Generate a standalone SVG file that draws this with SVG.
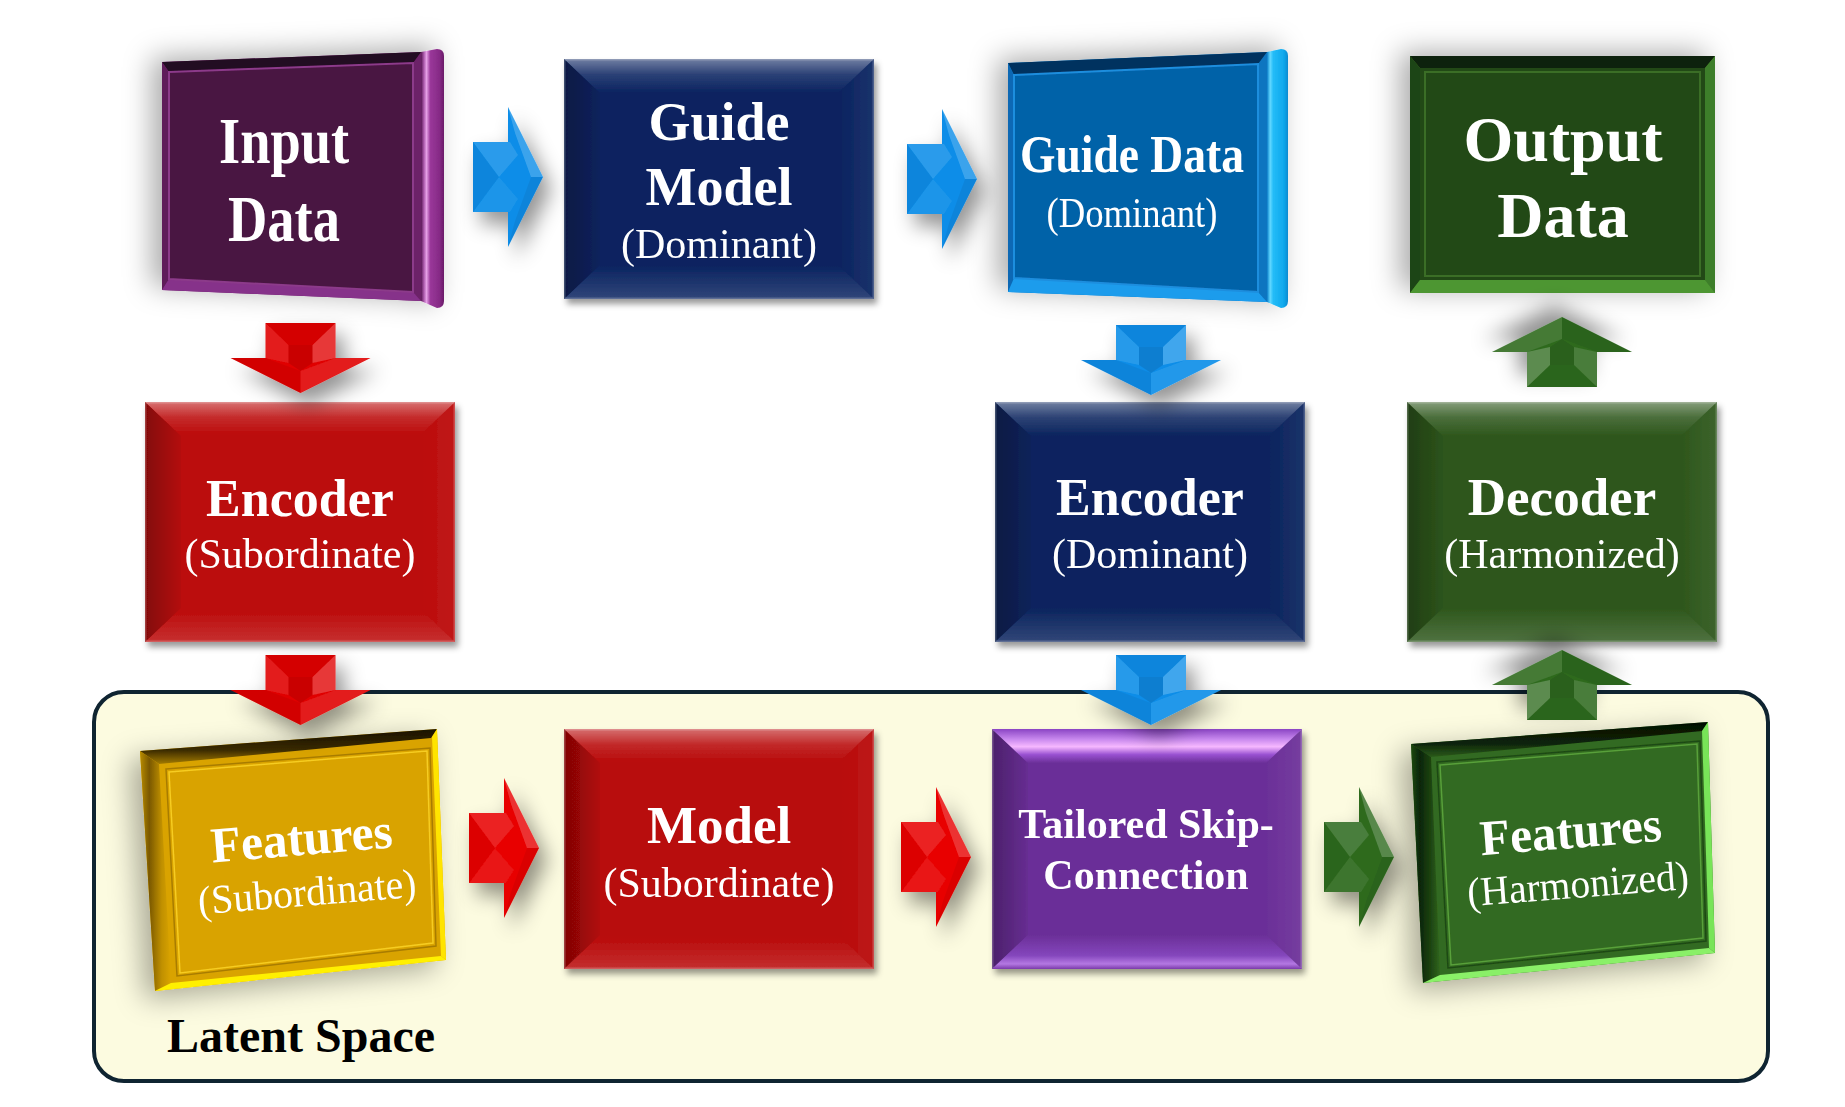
<svg xmlns="http://www.w3.org/2000/svg" xmlns:xlink="http://www.w3.org/1999/xlink" width="1845" height="1107" viewBox="0 0 1845 1107">
  <style>
    .tb { font-family: "Liberation Serif", "Times New Roman", serif; font-weight: bold; fill: #ffffff; text-anchor: middle; }
    .tr { font-family: "Liberation Serif", "Times New Roman", serif; font-weight: normal; fill: #ffffff; text-anchor: middle; }
    .lbl { font-family: "Liberation Serif", "Times New Roman", serif; font-weight: bold; fill: #000000; }
  </style>
  <defs>
    <!-- shadows -->
    <filter id="fxArrow" x="-60%" y="-60%" width="220%" height="220%">
      <feGaussianBlur in="SourceAlpha" stdDeviation="10"/>
      <feOffset dx="8" dy="12" result="b"/>
      <feFlood flood-color="#000" flood-opacity="0.42"/>
      <feComposite in2="b" operator="in"/>
      <feMerge><feMergeNode/><feMergeNode in="SourceGraphic"/></feMerge>
    </filter>
    <filter id="fxBox" x="-10%" y="-10%" width="125%" height="125%">
      <feGaussianBlur in="SourceAlpha" stdDeviation="3"/>
      <feOffset dx="3" dy="5" result="b"/>
      <feFlood flood-color="#000" flood-opacity="0.4"/>
      <feComposite in2="b" operator="in"/>
      <feMerge><feMergeNode/><feMergeNode in="SourceGraphic"/></feMerge>
    </filter>
    <filter id="fxFrame" x="-30%" y="-30%" width="160%" height="160%">
      <feGaussianBlur in="SourceAlpha" stdDeviation="14"/>
      <feOffset dx="-10" dy="-4" result="b"/>
      <feFlood flood-color="#000" flood-opacity="0.33"/>
      <feComposite in2="b" operator="in"/>
      <feMerge><feMergeNode/><feMergeNode in="SourceGraphic"/></feMerge>
    </filter>
    <filter id="fxFrameLow" x="-30%" y="-30%" width="160%" height="160%">
      <feGaussianBlur in="SourceAlpha" stdDeviation="14"/>
      <feOffset dx="-10" dy="8" result="b"/>
      <feFlood flood-color="#000" flood-opacity="0.33"/>
      <feComposite in2="b" operator="in"/>
      <feMerge><feMergeNode/><feMergeNode in="SourceGraphic"/></feMerge>
    </filter>

    <!-- bevel overlays -->
    <linearGradient id="bevTop" x1="0" y1="0" x2="0" y2="1">
      <stop offset="0" stop-color="#fff" stop-opacity="0.42"/>
      <stop offset="0.45" stop-color="#fff" stop-opacity="0.14"/>
      <stop offset="1" stop-color="#fff" stop-opacity="0"/>
    </linearGradient>
    <linearGradient id="bevBot" x1="0" y1="0" x2="0" y2="1">
      <stop offset="0" stop-color="#fff" stop-opacity="0"/>
      <stop offset="1" stop-color="#fff" stop-opacity="0.16"/>
    </linearGradient>
    <linearGradient id="bevLeft" x1="0" y1="0" x2="1" y2="0">
      <stop offset="0" stop-color="#000" stop-opacity="0.3"/>
      <stop offset="1" stop-color="#000" stop-opacity="0.04"/>
    </linearGradient>
    <linearGradient id="bevRight" x1="0" y1="0" x2="1" y2="0">
      <stop offset="0" stop-color="#fff" stop-opacity="0"/>
      <stop offset="1" stop-color="#fff" stop-opacity="0.07"/>
    </linearGradient>
    <linearGradient id="tsTop" x1="0" y1="0" x2="0" y2="1">
      <stop offset="0" stop-color="#8a44c4"/>
      <stop offset="0.3" stop-color="#c888ee"/>
      <stop offset="0.52" stop-color="#f6b8ff"/>
      <stop offset="0.75" stop-color="#9a52d2"/>
      <stop offset="1" stop-color="#6b2f98"/>
    </linearGradient>
    <linearGradient id="tsBot" x1="0" y1="0" x2="0" y2="1">
      <stop offset="0" stop-color="#6b2f98"/>
      <stop offset="0.6" stop-color="#8446bc"/>
      <stop offset="0.85" stop-color="#b478e2"/>
      <stop offset="1" stop-color="#7a3aaa"/>
    </linearGradient>

    <!-- frame side bevels -->
    <linearGradient id="gInputSide" x1="0" y1="0" x2="1" y2="0">
      <stop offset="0" stop-color="#5a1656"/>
      <stop offset="0.14" stop-color="#b462b4"/>
      <stop offset="0.24" stop-color="#e6a0e6"/>
      <stop offset="0.4" stop-color="#9a389a"/>
      <stop offset="0.8" stop-color="#862a86"/>
      <stop offset="1" stop-color="#6a1a68"/>
    </linearGradient>
    <linearGradient id="gGuideSide" x1="0" y1="0" x2="1" y2="0">
      <stop offset="0" stop-color="#0a7cc8"/>
      <stop offset="0.15" stop-color="#62d8ff"/>
      <stop offset="0.3" stop-color="#22bcf8"/>
      <stop offset="0.8" stop-color="#10a8ec"/>
      <stop offset="1" stop-color="#0a8ad0"/>
    </linearGradient>
    <linearGradient id="gGoldLeft" x1="0" y1="0" x2="1" y2="0">
      <stop offset="0" stop-color="#b88c00"/>
      <stop offset="0.3" stop-color="#7a5800"/>
      <stop offset="0.7" stop-color="#c09000"/>
      <stop offset="1" stop-color="#daa400"/>
    </linearGradient>
    <linearGradient id="gGoldTop" x1="0" y1="0" x2="0" y2="1">
      <stop offset="0" stop-color="#1a1200"/>
      <stop offset="0.6" stop-color="#3a2a00"/>
      <stop offset="1" stop-color="#a27a00"/>
    </linearGradient>
    <linearGradient id="gGreenLeft" x1="0" y1="0" x2="1" y2="0">
      <stop offset="0" stop-color="#1e4a12"/>
      <stop offset="0.3" stop-color="#0a2406"/>
      <stop offset="0.7" stop-color="#1e4612"/>
      <stop offset="1" stop-color="#30661e"/>
    </linearGradient>
    <linearGradient id="gGreenTop" x1="0" y1="0" x2="0" y2="1">
      <stop offset="0" stop-color="#030e02"/>
      <stop offset="0.6" stop-color="#0c2208"/>
      <stop offset="1" stop-color="#2a5a1a"/>
    </linearGradient>

    <!-- bevel facets of a 310x240 box -->
    <g id="bevel">
      <polygon points="0,0 310,0 274,34 36,34" fill="url(#bevTop)"/>
      <polygon points="0,0 36,34 36,206 0,240" fill="url(#bevLeft)"/>
      <polygon points="310,0 310,240 274,206 274,34" fill="url(#bevRight)"/>
      <polygon points="0,240 310,240 274,206 36,206" fill="url(#bevBot)"/>
      <rect x="0.75" y="0.75" width="308.5" height="238.5" fill="none" stroke="#fff" stroke-opacity="0.22" stroke-width="1.5"/>
    </g>

    <!-- block arrows, coloured through currentColor -->
    <g id="arrowR">
      <path d="M0,-35 H35 V-70 L70,0 L35,70 V35 H0 Z" fill="currentColor"/>
      <path d="M0,-35 H37 L45,-22 L26,0 Z" fill="#fff" fill-opacity="0.13"/>
      <path d="M0,35 H37 L45,22 L26,0 Z" fill="#fff" fill-opacity="0.07"/>
      <path d="M0,-35 L26,0 L0,35 Z" fill="#000" fill-opacity="0.05"/>
      <path d="M35,-70 L70,0 L58,0 L42,-44 Z" fill="#fff" fill-opacity="0.2"/>
      <path d="M35,70 L70,0 L58,0 L42,44 Z" fill="#000" fill-opacity="0.06"/>
    </g>
    <g id="arrowD">
      <path d="M-35,0 H35 V35 H70 L0,70 L-70,35 H-35 Z" fill="currentColor"/>
      <path d="M-35,0 L-12,22 V40 L-35,35 Z" fill="#fff" fill-opacity="0.12"/>
      <path d="M35,0 L12,22 V40 L35,35 Z" fill="#fff" fill-opacity="0.22"/>
      <path d="M-35,0 H35 L12,22 H-12 Z" fill="#000" fill-opacity="0.05"/>
      <path d="M-12,22 H12 V40 L0,48 L-12,40 Z" fill="#000" fill-opacity="0.1"/>
      <path d="M-70,35 L0,70 L0,48 L-35,35 Z" fill="#000" fill-opacity="0.06"/>
      <path d="M70,35 L0,70 L0,48 L35,35 Z" fill="#fff" fill-opacity="0.1"/>
    </g>
  </defs>

  <rect width="1845" height="1107" fill="#ffffff"/>

  <!-- latent space region -->
  <g id="latent-space">
    <rect x="94" y="692" width="1674" height="389" rx="30" ry="30" fill="#fcfbe0" stroke="#0f2431" stroke-width="4"/>
    <text class="lbl" x="167" y="1052" font-size="48">Latent Space</text>
  </g>

  <!-- Input Data -->
  <g id="input-data" filter="url(#fxFrame)">
    <polygon points="162,62 421,52 421,301 162,290" fill="#6c2168"/>
    <polygon points="162,62 421,52 413,63 169,72" fill="#230820"/>
    <polygon points="162,62 169,72 169,279 162,290" fill="#5e1c5a"/>
    <polygon points="162,290 169,279 413,292 421,301" fill="#86318a"/>
    <polygon points="169,72 413,63 413,292 169,279" fill="#4a1542" stroke="#8c3a8a" stroke-width="2"/>
    <path d="M421,52 L437,49 Q444,49 444,56 L444,301 Q444,308 437,308 L421,301 Z" fill="url(#gInputSide)"/>
    <text class="tb" x="284" y="163" font-size="65" textLength="130" lengthAdjust="spacingAndGlyphs">Input</text>
    <text class="tb" x="284" y="241" font-size="65" textLength="112" lengthAdjust="spacingAndGlyphs">Data</text>
  </g>

  <!-- Guide Model -->
  <g id="guide-model" filter="url(#fxBox)">
    <rect x="564" y="59" width="310" height="240" fill="#0a2360"/>
    <use xlink:href="#bevel" href="#bevel" x="564" y="59"/>
    <text class="tb" x="719" y="140" font-size="54">Guide</text>
    <text class="tb" x="719" y="205" font-size="54">Model</text>
    <text class="tr" x="719" y="258" font-size="42">(Dominant)</text>
  </g>

  <!-- Guide Data -->
  <g id="guide-data" filter="url(#fxFrame)">
    <polygon points="1008,63 1267,52 1267,302 1008,292" fill="#0a74c0"/>
    <polygon points="1008,63 1267,52 1258,64 1014,75" fill="#04325e"/>
    <polygon points="1008,63 1014,75 1014,278 1008,292" fill="#0868b4"/>
    <polygon points="1008,292 1014,278 1258,292 1267,302" fill="#1c9cec"/>
    <polygon points="1014,75 1258,64 1258,292 1014,278" fill="#0562a8" stroke="#1e8ede" stroke-width="2"/>
    <path d="M1267,52 L1281,49 Q1288,49 1288,56 L1288,301 Q1288,308 1281,308 L1267,302 Z" fill="url(#gGuideSide)"/>
    <text class="tb" x="1132" y="172" font-size="52" textLength="224" lengthAdjust="spacingAndGlyphs">Guide Data</text>
    <text class="tr" x="1132" y="227" font-size="42" textLength="171" lengthAdjust="spacingAndGlyphs">(Dominant)</text>
  </g>

  <!-- Output Data -->
  <g id="output-data" filter="url(#fxFrame)">
    <rect x="1410" y="56" width="305" height="237" fill="#3a7428"/>
    <polygon points="1410,56 1715,56 1705,68 1420,68" fill="#0f2208"/>
    <polygon points="1410,56 1420,68 1420,280 1410,293" fill="#1f4412"/>
    <polygon points="1715,56 1715,293 1705,280 1705,68" fill="#3e7e2a"/>
    <polygon points="1410,293 1715,293 1705,280 1420,280" fill="#4e9632"/>
    <rect x="1420" y="68" width="285" height="212" fill="#234a14"/>
    <rect x="1425" y="72" width="275" height="204" fill="none" stroke="#3a6e26" stroke-width="2"/>
    <text class="tb" x="1563" y="161" font-size="64">Output</text>
    <text class="tb" x="1563" y="237" font-size="64">Data</text>
  </g>

  <!-- Encoder (Subordinate) -->
  <g id="encoder-subordinate" filter="url(#fxBox)">
    <rect x="145" y="402" width="310" height="240" fill="#bb0909"/>
    <use xlink:href="#bevel" href="#bevel" x="145" y="402"/>
    <text class="tb" x="300" y="516" font-size="52">Encoder</text>
    <text class="tr" x="300" y="568" font-size="42">(Subordinate)</text>
  </g>

  <!-- Encoder (Dominant) -->
  <g id="encoder-dominant" filter="url(#fxBox)">
    <rect x="995" y="402" width="310" height="240" fill="#0b245e"/>
    <use xlink:href="#bevel" href="#bevel" x="995" y="402"/>
    <text class="tb" x="1150" y="515" font-size="52">Encoder</text>
    <text class="tr" x="1150" y="568" font-size="42">(Dominant)</text>
  </g>

  <!-- Decoder (Harmonized) -->
  <g id="decoder-harmonized" filter="url(#fxBox)">
    <rect x="1407" y="402" width="310" height="240" fill="#2e571c"/>
    <use xlink:href="#bevel" href="#bevel" x="1407" y="402"/>
    <text class="tb" x="1562" y="515" font-size="53">Decoder</text>
    <text class="tr" x="1562" y="568" font-size="42">(Harmonized)</text>
  </g>

  <!-- Features (Subordinate) -->
  <g id="features-subordinate" filter="url(#fxFrameLow)">
    <polygon points="140,751 437,729 446,960 155,991" fill="#d9a300"/>
    <polygon points="140,751 437,729 431,738 159,764" fill="url(#gGoldTop)"/>
    <polygon points="140,751 159,764 171,983 155,991" fill="url(#gGoldLeft)"/>
    <polygon points="437,729 446,960 441,956 432,737" fill="#ffe400"/>
    <polygon points="155,991 446,960 441,956 171,983" fill="#fff000"/>
    <polygon points="166,769 430,748 436,946 177,976" fill="none" stroke="#a87c00" stroke-width="1.5"/>
    <polygon points="169,772 427,751 433,943 180,973" fill="none" stroke="#f6cc20" stroke-width="1.5"/>
    <g transform="rotate(-4.7 303 880)">
      <text class="tb" x="305" y="855" font-size="50" textLength="182" lengthAdjust="spacingAndGlyphs">Features</text>
      <text class="tr" x="306" y="906" font-size="41" textLength="219" lengthAdjust="spacingAndGlyphs">(Subordinate)</text>
    </g>
  </g>

  <!-- Model (Subordinate) -->
  <g id="model-subordinate" filter="url(#fxBox)">
    <rect x="564" y="729" width="310" height="240" fill="#b80808"/>
    <use xlink:href="#bevel" href="#bevel" x="564" y="729"/>
    <text class="tb" x="719" y="843" font-size="53">Model</text>
    <text class="tr" x="719" y="897" font-size="42">(Subordinate)</text>
  </g>

  <!-- Tailored Skip-Connection -->
  <g id="tailored-skip-connection" filter="url(#fxBox)">
    <rect x="992" y="729" width="310" height="240" fill="#6b2f98"/>
    <use xlink:href="#bevel" href="#bevel" x="992" y="729"/>
    <polygon points="992,729 1302,729 1266,763 1028,763" fill="url(#tsTop)"/>
    <polygon points="992,969 1302,969 1266,935 1028,935" fill="url(#tsBot)"/>
    <text class="tb" x="1146" y="838" font-size="42">Tailored Skip-</text>
    <text class="tb" x="1146" y="889" font-size="42">Connection</text>
  </g>

  <!-- Features (Harmonized) -->
  <g id="features-harmonized" filter="url(#fxFrameLow)">
    <polygon points="1411,744 1708,722 1715,953 1423,983" fill="#336a20"/>
    <polygon points="1411,744 1708,722 1702,731 1431,757" fill="url(#gGreenTop)"/>
    <polygon points="1411,744 1431,757 1440,975 1423,983" fill="url(#gGreenLeft)"/>
    <polygon points="1708,722 1715,953 1709,948 1702,731" fill="#78e458"/>
    <polygon points="1423,983 1715,953 1709,948 1440,975" fill="#8af068"/>
    <polygon points="1437,762 1700,741 1706,941 1448,968" fill="none" stroke="#1e4a12" stroke-width="1.5"/>
    <polygon points="1440,765 1697,744 1703,938 1451,965" fill="none" stroke="#58a03a" stroke-width="1.5"/>
    <g transform="rotate(-4.5 1573 873)">
      <text class="tb" x="1574" y="848" font-size="50" textLength="182" lengthAdjust="spacingAndGlyphs">Features</text>
      <text class="tr" x="1577" y="898" font-size="41" textLength="222" lengthAdjust="spacingAndGlyphs">(Harmonized)</text>
    </g>
  </g>

  <!-- connectors -->
  <g id="connectors">
    <use xlink:href="#arrowR" href="#arrowR" transform="translate(473,177)" color="#0b8de8" filter="url(#fxArrow)"/>
    <use xlink:href="#arrowR" href="#arrowR" transform="translate(907,179)" color="#0b8de8" filter="url(#fxArrow)"/>
    <use xlink:href="#arrowD" href="#arrowD" transform="translate(300.5,323)" color="#e00000" filter="url(#fxArrow)"/>
    <use xlink:href="#arrowD" href="#arrowD" transform="translate(300.5,655)" color="#e00000" filter="url(#fxArrow)"/>
    <use xlink:href="#arrowD" href="#arrowD" transform="translate(1151,325)" color="#0b8de8" filter="url(#fxArrow)"/>
    <use xlink:href="#arrowD" href="#arrowD" transform="translate(1151,655)" color="#0b8de8" filter="url(#fxArrow)"/>
    <use xlink:href="#arrowR" href="#arrowR" transform="translate(469,848)" color="#e80000" filter="url(#fxArrow)"/>
    <use xlink:href="#arrowR" href="#arrowR" transform="translate(901,857)" color="#e80000" filter="url(#fxArrow)"/>
    <use xlink:href="#arrowR" href="#arrowR" transform="translate(1324,857)" color="#2f6b1f" filter="url(#fxArrow)"/>
    <use xlink:href="#arrowD" href="#arrowD" transform="translate(1562,720) rotate(180)" color="#2f6b1f" filter="url(#fxArrow)"/>
    <use xlink:href="#arrowD" href="#arrowD" transform="translate(1562,387) rotate(180)" color="#2f6b1f" filter="url(#fxArrow)"/>
  </g>
</svg>
